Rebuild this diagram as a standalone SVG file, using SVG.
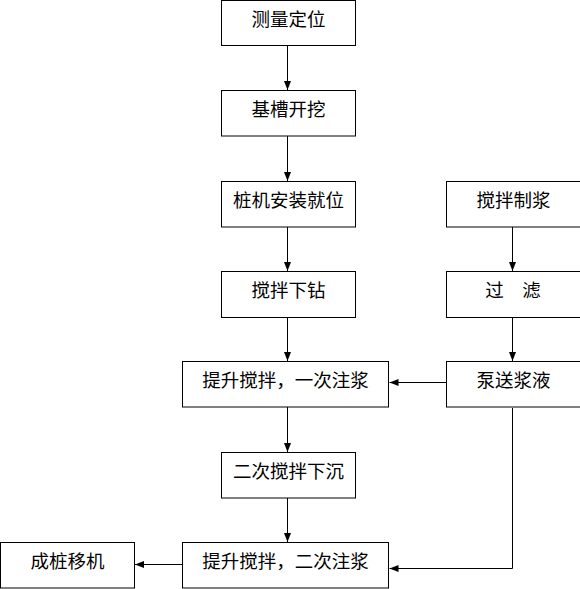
<svg xmlns="http://www.w3.org/2000/svg" width="580" height="589" viewBox="0 0 580 589">
<style>
.box{fill:#fff;stroke:#000;stroke-width:1}
.lbl{font-family:"Noto Sans CJK SC","Noto Sans",sans-serif;font-size:18.5px;fill:#000;text-anchor:middle}
.con{fill:none;stroke:#000;stroke-width:1;marker-end:url(#ah)}
</style>
<defs>
<marker id="ah" markerUnits="userSpaceOnUse" markerWidth="10" markerHeight="8" refX="9" refY="3.5" orient="auto">
<path d="M0,0 L9,3.5 L0,7 z" fill="#000"/>
</marker>
</defs>
<rect width="580" height="589" fill="#fff"/>
<g id="connectors">
<line class="con" x1="287.5" y1="46" x2="287.5" y2="90"/>
<line class="con" x1="287.5" y1="136" x2="287.5" y2="181"/>
<line class="con" x1="287.5" y1="227" x2="287.5" y2="271"/>
<line class="con" x1="287.5" y1="318" x2="287.5" y2="361"/>
<line class="con" x1="287.5" y1="407" x2="287.5" y2="452"/>
<line class="con" x1="287.5" y1="498" x2="287.5" y2="542"/>
<line class="con" x1="512.5" y1="227" x2="512.5" y2="271"/>
<line class="con" x1="512.5" y1="318" x2="512.5" y2="361"/>
<line class="con" x1="446" y1="382.5" x2="389.5" y2="382.5"/>
<polyline class="con" points="512.5,408 512.5,568.5 389.5,568.5"/>
<line class="con" x1="182" y1="564.5" x2="135" y2="564.5"/>
</g>
<g id="n1"><rect class="box" x="221.5" y="0.5" width="134" height="45"/><text class="lbl" x="288.5" y="25.5">测量定位</text></g>
<g id="n2"><rect class="box" x="221.5" y="90.5" width="134" height="45.5"/><text class="lbl" x="288.5" y="116">基槽开挖</text></g>
<g id="n3"><rect class="box" x="221.5" y="181.5" width="134" height="45.5"/><text class="lbl" x="288.5" y="207">桩机安装就位</text></g>
<g id="n4"><rect class="box" x="221.5" y="271.5" width="134" height="46"/><text class="lbl" x="288.5" y="297">搅拌下钻</text></g>
<g id="n5"><rect class="box" x="182.5" y="361.5" width="206" height="45.5"/><text class="lbl" x="285.5" y="387">提升搅拌，一次注浆</text></g>
<g id="n6"><rect class="box" x="221.5" y="452.5" width="134" height="45.5"/><text class="lbl" x="288.5" y="478">二次搅拌下沉</text></g>
<g id="n7"><rect class="box" x="182.5" y="542.5" width="206" height="45.5"/><text class="lbl" x="285.5" y="568">提升搅拌，二次注浆</text></g>
<g id="n8"><rect class="box" x="0.5" y="542.5" width="134" height="45.5"/><text class="lbl" x="67.5" y="568">成桩移机</text></g>
<g id="n9"><rect class="box" x="446.5" y="181.5" width="134" height="45.5"/><text class="lbl" x="513.5" y="207">搅拌制浆</text></g>
<g id="n10"><rect class="box" x="446.5" y="271.5" width="134" height="46"/><text class="lbl" x="513" y="297">过　滤</text></g>
<g id="n11"><rect class="box" x="446.5" y="361.5" width="134" height="45.5"/><text class="lbl" x="513.5" y="387">泵送浆液</text></g>
</svg>
